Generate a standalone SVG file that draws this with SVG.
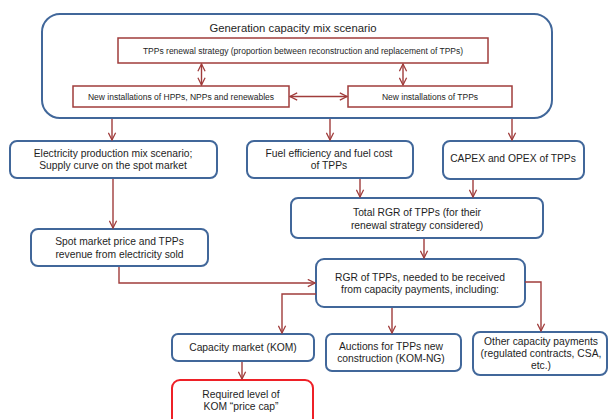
<svg xmlns="http://www.w3.org/2000/svg" width="608" height="419" viewBox="0 0 608 419">
<defs>
<marker id="arr" viewBox="0 0 10 10" refX="9" refY="5" markerWidth="9" markerHeight="9" markerUnits="userSpaceOnUse" orient="auto-start-reverse">
<path d="M1,1 L9,5 L1,9" fill="none" stroke="#a03c3b" stroke-width="1.4"/>
</marker>
<style>
.bb{fill:#fff;stroke:#41679a;stroke-width:2}
.rb{fill:#fff;stroke:#a03c3b;stroke-width:1.5}
.hb{fill:#fff;stroke:#ee2027;stroke-width:2}
.c{fill:none;stroke:#a03c3b;stroke-width:1.4}
text{font-family:"Liberation Sans",Arial,sans-serif;fill:#1e1e1e;text-anchor:middle}
.t{font-size:10.3px}
.s{font-size:8.5px}
.h{font-size:11.3px}
</style>
</defs>
<rect width="608" height="419" fill="#fff"/>
<g id="scenario">
<rect class="bb" x="42" y="14" width="510" height="104" rx="18"/>
<text class="h" x="293" y="32">Generation capacity mix scenario</text>
</g>
<g id="renewal">
<rect class="rb" x="118" y="38" width="370" height="25"/>
<text class="s" x="303" y="54">TPPs renewal strategy (proportion between reconstruction and replacement of TPPs)</text>
</g>
<g id="newhpp">
<rect class="rb" x="73" y="86" width="216" height="21"/>
<text class="s" x="181" y="100">New  installations of HPPs, NPPs and renewables</text>
</g>
<g id="newtpp">
<rect class="rb" x="348" y="86" width="164" height="21"/>
<text class="s" x="430" y="100">New  installations of TPPs</text>
</g>
<g id="elec">
<rect class="bb" x="10" y="141" width="207" height="37" rx="7"/>
<text class="t" x="113" y="157">Electricity production mix scenario;</text>
<text class="t" x="113" y="169">Supply curve on the spot market</text>
</g>
<g id="fuel">
<rect class="bb" x="247" y="141" width="166" height="37" rx="7"/>
<text class="t" x="329" y="157">Fuel efficiency and fuel cost</text>
<text class="t" x="329" y="169">of TPPs</text>
</g>
<g id="capex">
<rect class="bb" x="443" y="141" width="141" height="38" rx="7"/>
<text class="t" x="513" y="162">CAPEX and OPEX of TPPs</text>
</g>
<g id="spot">
<rect class="bb" x="31" y="229" width="177" height="37" rx="7"/>
<text class="t" x="119.5" y="245">Spot market price and TPPs</text>
<text class="t" x="119.5" y="258">revenue from  electricity sold</text>
</g>
<g id="total">
<rect class="bb" x="291" y="198" width="252" height="40" rx="7"/>
<text class="t" x="417" y="216">Total RGR of TPPs (for their</text>
<text class="t" x="417" y="229">renewal strategy considered)</text>
</g>
<g id="rgr">
<rect class="bb" x="316" y="259" width="209" height="48" rx="8"/>
<text class="t" x="420" y="281">RGR of TPPs, needed to be received</text>
<text class="t" x="420" y="293">from  capacity payments, including:</text>
</g>
<g id="kom">
<rect class="bb" x="172" y="334" width="142" height="27" rx="6"/>
<text class="t" x="243" y="351">Capacity market (KOM)</text>
</g>
<g id="komng">
<rect class="bb" x="326" y="334" width="135" height="37" rx="6"/>
<text class="t" x="391" y="350">Auctions for TPPs new</text>
<text class="t" x="391" y="362">construction (KOM-NG)</text>
</g>
<g id="other">
<rect class="bb" x="473" y="332" width="134" height="43" rx="7"/>
<text class="t" x="541" y="345">Other capacity payments</text>
<text class="t" x="541" y="357">(regulated contracts, CSA,</text>
<text class="t" x="541" y="369">etc.)</text>
</g>
<g id="pricecap">
<rect class="hb" x="172" y="380" width="141" height="46" rx="8"/>
<text class="t" x="241" y="398">Required level of</text>
<text class="t" x="241" y="410">KOM “price cap”</text>
</g>
<g id="connectors">
<line class="c" x1="201.5" y1="64" x2="201.5" y2="85" marker-start="url(#arr)" marker-end="url(#arr)"/>
<line class="c" x1="403" y1="64" x2="403" y2="85" marker-start="url(#arr)" marker-end="url(#arr)"/>
<line class="c" x1="290" y1="96.5" x2="347" y2="96.5" marker-start="url(#arr)" marker-end="url(#arr)"/>
<line class="c" x1="112" y1="119" x2="112" y2="140" marker-end="url(#arr)"/>
<line class="c" x1="330" y1="119" x2="330" y2="140" marker-end="url(#arr)"/>
<line class="c" x1="512" y1="119" x2="512" y2="140" marker-end="url(#arr)"/>
<line class="c" x1="113" y1="179" x2="113" y2="228" marker-end="url(#arr)"/>
<line class="c" x1="360" y1="179" x2="360" y2="197" marker-end="url(#arr)"/>
<line class="c" x1="473" y1="180" x2="473" y2="197" marker-end="url(#arr)"/>
<line class="c" x1="424" y1="239" x2="424" y2="258" marker-end="url(#arr)"/>
<polyline class="c" points="119,267 119,283 315,283" marker-end="url(#arr)"/>
<polyline class="c" points="316,294 282,294 282,333" marker-end="url(#arr)"/>
<line class="c" x1="392" y1="308" x2="392" y2="333" marker-end="url(#arr)"/>
<polyline class="c" points="525,282 541,282 541,331" marker-end="url(#arr)"/>
<line class="c" x1="242" y1="362" x2="242" y2="379" marker-end="url(#arr)"/>
</g>
</svg>
